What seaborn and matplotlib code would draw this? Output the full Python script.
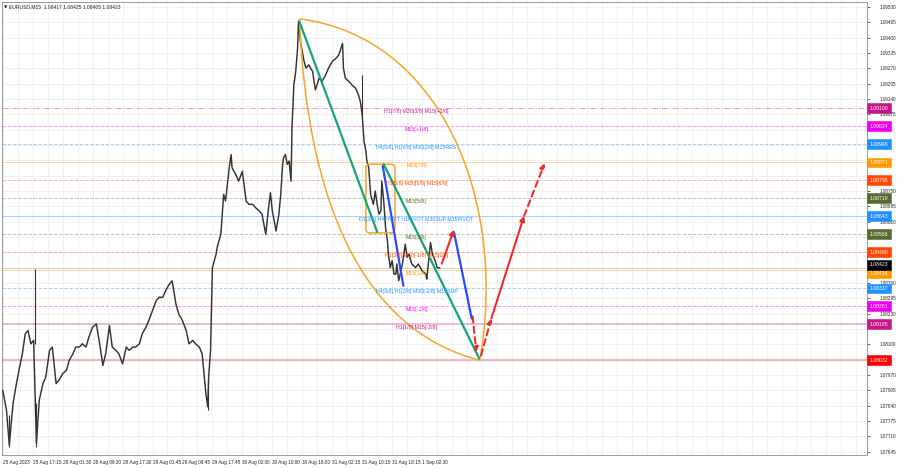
import matplotlib
matplotlib.use('Agg')
import matplotlib.pyplot as plt
import matplotlib.transforms as mtransforms
from matplotlib.patches import FancyBboxPatch, FancyArrowPatch, PathPatch
from matplotlib.path import Path
import seaborn as sns

# EURUSD M15 close path: bar index (M15 bars from the first bar) and price
bar = [0, 4, 7, 11, 14, 18, 21, 24, 27, 30, 33, 36, 39, 43, 46, 50, 53, 57, 60, 64,
       68, 71, 75, 78, 82, 85, 89, 92, 96, 100, 103, 107, 110, 114, 117, 121, 124, 128, 132, 135,
       139, 142, 146, 149, 153, 156, 160, 164, 167, 171, 174, 178, 181, 185, 188, 192, 196, 199, 203, 206,
       210, 213, 215, 217, 219, 220, 222, 224, 228, 229, 233, 235, 236, 238, 242, 244, 245, 249, 252, 256,
       260, 263, 267, 270, 274, 277, 281, 284, 286, 288, 292, 295, 297, 299, 300, 302, 304, 306, 308, 309,
       311, 313, 315, 316, 318, 320, 322, 324, 327, 331, 334, 338, 341, 345, 348, 352, 356, 359, 363, 364,
       366, 370, 373, 377, 380, 382, 384, 386, 388, 389, 391, 393, 395, 396, 398, 400, 402, 404, 405, 407,
       409, 411, 412, 414, 416, 418, 420, 421, 423, 427, 430, 432, 434, 437, 441, 444, 448, 452, 453, 455,
       457, 459, 462, 464, 467]
price = [1.07905, 1.07821, 1.07673, 1.07849, 1.07919, 1.08003, 1.08060, 1.08144, 1.08158, 1.08102,
         1.08116, 1.07680, 1.07863, 1.07933, 1.07961, 1.08074, 1.08088, 1.07933, 1.07947, 1.07975,
         1.07989, 1.08031, 1.08060, 1.08088, 1.08088, 1.08102, 1.08088, 1.08130, 1.08172, 1.08186,
         1.08116, 1.08010, 1.08060, 1.08179, 1.08088, 1.08074, 1.08060, 1.08017, 1.08088, 1.08074,
         1.08088, 1.08088, 1.08102, 1.08144, 1.08172, 1.08200, 1.08243, 1.08285, 1.08299, 1.08299,
         1.08327, 1.08355, 1.08369, 1.08271, 1.08228, 1.08200, 1.08158, 1.08102, 1.08116, 1.08102,
         1.08088, 1.08060, 1.07975, 1.07891, 1.07835, 1.07961, 1.08074, 1.08425, 1.08482, 1.08510,
         1.08566, 1.08679, 1.08735, 1.08707, 1.08848, 1.08904, 1.08848, 1.08819, 1.08791, 1.08833,
         1.08707, 1.08693, 1.08693, 1.08679, 1.08665, 1.08651, 1.08566, 1.08679, 1.08742, 1.08665,
         1.08580, 1.08651, 1.08735, 1.08862, 1.08890, 1.08904, 1.08862, 1.08876, 1.08791, 1.09016,
         1.09199, 1.09256, 1.09354, 1.09470, 1.09382, 1.09340, 1.09298, 1.09270, 1.09284, 1.09256,
         1.09178, 1.09227, 1.09213, 1.09241, 1.09270, 1.09298, 1.09312, 1.09326, 1.09375, 1.09270,
         1.09227, 1.09213, 1.09199, 1.09185, 1.09157, 1.09129, 1.09073, 1.08960, 1.08918, 1.08876,
         1.08848, 1.08735, 1.08707, 1.08693, 1.08749, 1.08693, 1.08651, 1.08665, 1.08791, 1.08707,
         1.08594, 1.08538, 1.08482, 1.08425, 1.08454, 1.08397, 1.08397, 1.08440, 1.08369, 1.08440,
         1.08524, 1.08468, 1.08482, 1.08440, 1.08425, 1.08440, 1.08411, 1.08397, 1.08376, 1.08454,
         1.08531, 1.08482, 1.08454, 1.08425, 1.08423]

# single bars with long wicks
spike_bar = [7, 34, 36, 219, 384]
spike_low = [1.07666, 1.08100, 1.07666, 1.07820, 1.09073]
spike_high = [1.07800, 1.08418, 1.07850, 1.07930, 1.09241]

# time axis
time_bars = [0, 32, 64, 96, 128, 160, 192, 224, 256, 288, 320, 352, 384, 416, 448]
time_labels = ['25 Aug 2023', '25 Aug 17:15', '28 Aug 01:30', '28 Aug 09:30', '28 Aug 17:30',
               '29 Aug 01:45', '29 Aug 09:45', '29 Aug 17:45', '30 Aug 02:00', '30 Aug 10:00',
               '30 Aug 18:00', '31 Aug 02:15', '31 Aug 10:15', '31 Aug 18:15', '1 Sep 02:30']

price_ticks = [1.09530, 1.09465, 1.09400, 1.09335, 1.09270, 1.09205, 1.09140, 1.09075, 1.09010,
               1.08945, 1.08880, 1.08815, 1.08750, 1.08685, 1.08620, 1.08555, 1.08490, 1.08425,
               1.08360, 1.08295, 1.08230, 1.08165, 1.08100, 1.08035, 1.07970, 1.07905, 1.07840,
               1.07775, 1.07710, 1.07645]

# Murrey levels
level_price = [1.09100, 1.09024, 1.08948, 1.08871, 1.08795, 1.08719, 1.08643,
               1.08566, 1.08490, 1.08414, 1.08337, 1.08261, 1.08185]
level_text = ['H1[7/8] M30[3/8] M15[+2/8]', 'M15[+1/8]', 'H4[5/8] H1[6/8] M30[2/8] M15RES',
              'M15[7/8]', 'H1[5/8] M30[1/8] M15[6/8]', 'M15[5/8]',
              'D1[3/8] H4PIVOT H1PIVOT M30SUP M15PIVOT', 'M15[3/8]', 'H1[3/8] M30[-1/8] M15[2/8]',
              'M15[1/8]', 'H4[3/8] H1[2/8] M30[-2/8] M15SUP', 'M15[-1/8]', 'H1[1/8] M15[-2/8]']
level_color = ['#c71585', '#ee00ee', '#1e90ff', '#ff9900', '#ff4500', '#556b2f', '#1e90ff',
               '#556b2f', '#ff4500', '#ff9900', '#1e90ff', '#ee00ee', '#c71585']
level_style = ['-.', '--', '--', '-', '--', '--', '-', '--', '--', '-', '--', '--', '-']

target_price = 1.08032
last_price = 1.08423

# drawings: (bar, price)
green_lines = [((317, 1.09467), (400, 1.08576)), ((407, 1.08863), (509, 1.08040))]
blue_lines = [((406, 1.08855), (428, 1.08348)), ((482, 1.08576), (501, 1.08209))]
red_solid = [((469, 1.08441), (482, 1.08585)), ((522, 1.08209), (557, 1.08644))]
red_dashed = [((502, 1.08218), (506, 1.08066)), ((511, 1.08053), (522, 1.08209)),
              ((557, 1.08644), (579, 1.08867))]
outer_arc = [(317, 1.09479), (469, 1.09403), (539, 1.08707), (510, 1.08040)]
inner_arc = [(317, 1.09479), (325, 1.08707), (384, 1.08158), (510, 1.08032)]
box_bars = (388, 419)
box_prices = (1.08572, 1.08863)

sns.set_theme(style='white')
plt.rcParams['font.family'] = ['Liberation Sans', 'DejaVu Sans']

fig = plt.figure(figsize=(9, 4.68), dpi=100)
ax = fig.add_axes([0.002, 0.028, 0.961, 0.968])
ax.set_xlim(-1, 923)
ax.set_ylim(1.07631, 1.09551)

# grid
for gx in range(0, 923, 16):
    ax.axvline(gx, color='#efefef', lw=0.6, zorder=0)
for gy in price_ticks:
    ax.axhline(gy, color='#efefef', lw=0.6, zorder=0)

# levels
for p, c, ls in zip(level_price, level_color, level_style):
    thick = p == 1.08185
    ax.axhline(p, color=c, ls=ls, lw=1.5 if thick else 0.7,
               alpha=0.3 if thick else 0.4, zorder=1)
ax.axhline(target_price, color='#f08080', lw=1.6, alpha=0.55, zorder=1)
ax.axhline(last_price, color='#c8c8c8', lw=0.6, zorder=1)

for p, t, c in zip(level_price, level_text, level_color):
    ax.annotate(t, (442, p), xytext=(0, -0.6), textcoords='offset points',
                ha='center', va='top', fontsize=3.8, color=c, zorder=6)

# price
sns.lineplot(x=bar, y=price, ax=ax, color='#333333', lw=1.05, zorder=3)
ax.vlines(spike_bar, spike_low, spike_high, color='#333333', lw=0.8, zorder=3)

# arcs
for pts in (outer_arc, inner_arc):
    path = Path(pts, [Path.MOVETO, Path.CURVE4, Path.CURVE4, Path.CURVE4])
    ax.add_patch(PathPatch(path, fill=False, color='#f5a623', lw=1.1, zorder=4))

box = FancyBboxPatch((box_bars[0], box_prices[0]), box_bars[1] - box_bars[0],
                     box_prices[1] - box_prices[0],
                     boxstyle='round,pad=0,rounding_size=4', mutation_aspect=0.0000396,
                     fill=False, ec='#f5a623', lw=1.1, zorder=4)
ax.add_patch(box)

for a, b in green_lines:
    ax.plot([a[0], b[0]], [a[1], b[1]], color='#13a578', lw=1.6, zorder=5)
for a, b in blue_lines:
    ax.plot([a[0], b[0]], [a[1], b[1]], color='#2a4bff', lw=1.6, zorder=5)
for a, b in red_solid:
    ax.add_patch(FancyArrowPatch(a, b, arrowstyle='-|>', mutation_scale=7,
                                 color='#f02a2a', lw=1.5, zorder=6, shrinkA=0, shrinkB=0))
for a, b in red_dashed:
    ax.add_patch(FancyArrowPatch(a, b, arrowstyle='-|>', mutation_scale=7, ls=(0, (3, 2)),
                                 color='#f02a2a', lw=1.5, zorder=6, shrinkA=0, shrinkB=0))

# right-side price boxes (tick labels hidden under them, as in the terminal)
box_vals = level_price + [target_price, last_price]
box_cols = level_color + ['#ff0000', '#000000']
box_shift = [0] * len(level_price) + [0, 2.2]
box_shift[level_price.index(1.08414)] = -2.2
shown_ticks = [t for t in price_ticks if min(abs(t - v) for v in box_vals) > 0.00022]

ax.yaxis.tick_right()
ax.set_yticks(shown_ticks)
ax.set_yticklabels([f'{v:.5f}' for v in shown_ticks], fontsize=3.3)
ax.set_xticks(time_bars)
ax.set_xticklabels(time_labels, fontsize=3.4, ha='left')
ax.tick_params(axis='y', length=2, pad=7, colors='#222222', width=0.5)
ax.tick_params(axis='x', length=2, pad=2, colors='#222222', width=0.5)
for s in ax.spines.values():
    s.set_color('#9a9a9a')
    s.set_linewidth(0.7)
ax.set_xlabel('')
ax.set_ylabel('')

trans = mtransforms.blended_transform_factory(ax.transAxes, ax.transData)
for v, c, dy in zip(box_vals, box_cols, box_shift):
    ax.annotate(f'{v:.5f}', (1.0035, v), xycoords=trans, xytext=(0, dy),
                textcoords='offset points', fontsize=3.7, color='white',
                ha='left', va='center', annotation_clip=False, zorder=10,
                bbox=dict(boxstyle='square,pad=0.45', fc=c, ec=c, lw=0.4))

ax.text(0.003, 0.993, '\u25bc', transform=ax.transAxes, fontsize=3.2, ha='left', va='top',
        color='#222222', family=['DejaVu Sans'])
ax.text(0.0085, 0.995, 'EURUSD,M15  1.08417 1.08425 1.08405 1.08423', transform=ax.transAxes,
        fontsize=3.6, ha='left', va='top', color='#222222')

fig.savefig('out.png', dpi=100)
